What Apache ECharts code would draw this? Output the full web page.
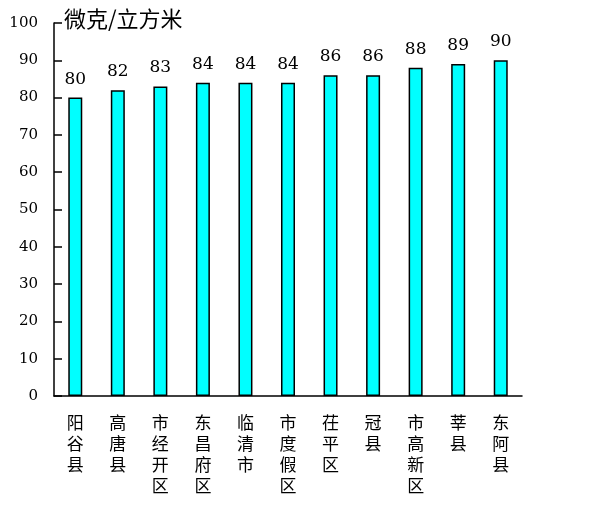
<!DOCTYPE html>
<html>
<head>
<meta charset="utf-8">
<script src="https://cdn.jsdelivr.net/npm/echarts@6/dist/echarts.min.js"></script>
<style>
  html, body { margin: 0; padding: 0; background: #fff; }
  #main { width: 590px; height: 506px; }
</style>
</head>
<body>
<div id="main"></div>
<script>
// 各县市区数值（微克/立方米）
var categories = ['阳谷县', '高唐县', '市经开区', '东昌府区', '临清市', '市度假区', '茌平区', '冠县', '市高新区', '莘县', '东阿县'];
var values = [80, 82, 83, 84, 84, 84, 86, 86, 88, 89, 90];
var unitText = '微克/立方米';

var serif = '"DejaVu Serif", "Liberation Serif", serif';
var cjk = '"Noto Sans CJK SC", sans-serif';

var option = {
    animation: false,
    backgroundColor: '#fff',
    title: {
        text: unitText,
        left: 59,
        top: 3,
        textStyle: {
            fontFamily: cjk,
            fontSize: 22,
            fontWeight: 'normal',
            color: '#000'
        }
    },
    grid: {
        left: 54,
        right: 68,
        top: 23,
        bottom: 110,
        containLabel: false
    },
    xAxis: {
        type: 'category',
        data: categories,
        axisLine: { lineStyle: { color: '#000', width: 1.5 } },
        axisTick: { inside: true, length: 8, lineStyle: { color: '#000', width: 1.5 } },
        axisLabel: {
            interval: 0,
            margin: 16,
            fontFamily: cjk,
            fontSize: 17,
            lineHeight: 21,
            color: '#000',
            verticalAlign: 'top',
            formatter: function (v) {
                return v.split('').join('\n');
            }
        }
    },
    yAxis: {
        type: 'value',
        min: 0,
        max: 100,
        interval: 10,
        splitLine: { show: false },
        axisLine: { show: true, lineStyle: { color: '#000', width: 1.5 } },
        axisTick: { show: true, inside: true, length: 8, lineStyle: { color: '#000', width: 1.5 } },
        axisLabel: {
            margin: 16,
            fontFamily: serif,
            fontSize: 15,
            color: '#000'
        }
    },
    series: [{
        type: 'bar',
        data: values,
        barWidth: 14,
        itemStyle: {
            color: '#00FFFF',
            borderColor: '#000',
            borderWidth: 1.5
        },
        label: {
            show: true,
            position: 'top',
            distance: 10,
            fontFamily: serif,
            fontSize: 17,
            color: '#000'
        }
    }]
};

var myChart = echarts.init(document.getElementById('main'));
myChart.setOption(option);
</script>
</body>
</html>
